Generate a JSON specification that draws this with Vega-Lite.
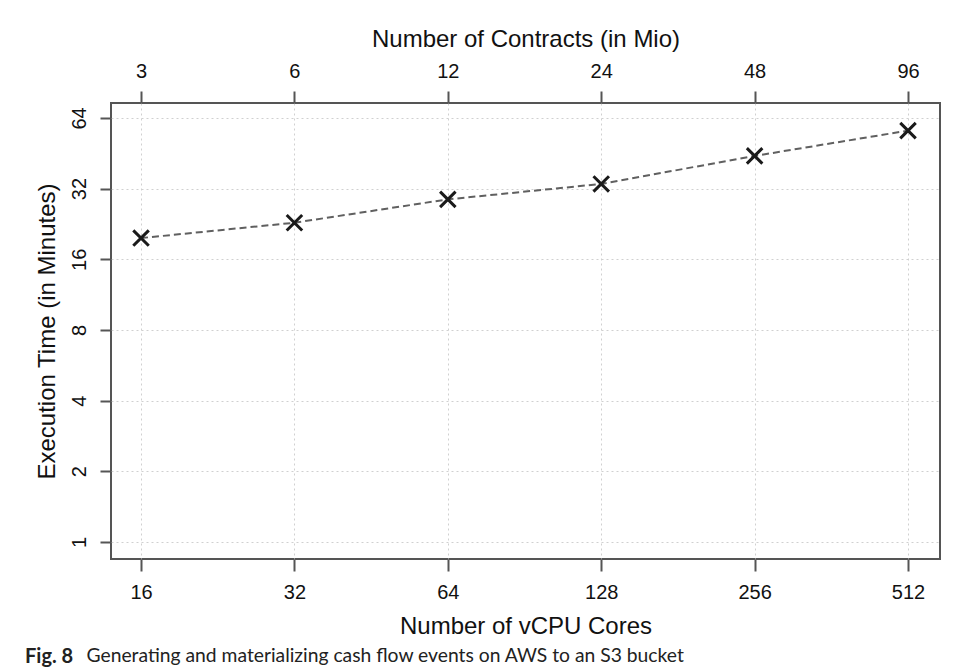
{
  "$schema": "https://vega.github.io/schema/vega-lite/v6.json",
  "width": 829,
  "height": 456,
  "autosize": {"type": "none"},
  "padding": {"left": 111, "top": 103, "right": 15, "bottom": 113},
  "background": "white",
  "config": {
    "view": {"stroke": "#555555", "strokeWidth": 2},
    "axis": {
      "labelFont": "Liberation Sans",
      "titleFont": "Liberation Sans",
      "labelFontSize": 20,
      "titleFontSize": 24,
      "titleFontWeight": "normal",
      "labelColor": "#111111",
      "titleColor": "#111111",
      "tickColor": "#555555",
      "tickWidth": 2,
      "tickSize": 12,
      "domain": false,
      "gridColor": "#d0d0d0",
      "gridDash": [2, 3],
      "gridWidth": 1
    }
  },
  "title": {
    "text": "Fig. 8",
    "orient": "bottom",
    "anchor": "start",
    "frame": "group",
    "dx": -86,
    "offset": -18,
    "font": "Lato",
    "fontSize": 20,
    "fontWeight": "bold",
    "color": "#222222"
  },
  "data": {
    "values": [
      {"cores": 16, "contracts": 3, "minutes": 19.7},
      {"cores": 32, "contracts": 6, "minutes": 22.9},
      {"cores": 64, "contracts": 12, "minutes": 28.8},
      {"cores": 128, "contracts": 24, "minutes": 33.5},
      {"cores": 256, "contracts": 48, "minutes": 44.1},
      {"cores": 512, "contracts": 96, "minutes": 56.5}
    ]
  },
  "encoding": {
    "y": {
      "field": "minutes",
      "type": "quantitative",
      "scale": {"type": "log", "base": 2, "domain": [0.846, 74.1], "nice": false},
      "axis": {
        "title": "Execution Time (in Minutes)",
        "values": [1, 2, 4, 8, 16, 32, 64],
        "format": "d",
        "labelAngle": -90,
        "labelAlign": "center",
        "labelBaseline": "bottom",
        "labelPadding": 11,
        "tickSize": 11,
        "titlePadding": 10,
        "grid": true
      }
    }
  },
  "layer": [
    {
      "encoding": {
        "x": {
          "field": "cores",
          "type": "quantitative",
          "scale": {"type": "log", "base": 2, "domain": [13.97, 591.6], "nice": false},
          "axis": {
            "orient": "bottom",
            "title": "Number of vCPU Cores",
            "values": [16, 32, 64, 128, 256, 512],
            "format": "d",
            "labelPadding": 11,
            "titlePadding": 12,
            "grid": true
          }
        }
      },
      "layer": [
        {
          "mark": {"type": "line", "color": "#606060", "strokeWidth": 2, "strokeDash": [7, 4]}
        },
        {
          "mark": {
            "type": "point",
            "shape": "M-1,-1L1,1M-1,1L1,-1",
            "filled": false,
            "stroke": "#1a1a1a",
            "strokeWidth": 3,
            "size": 240,
            "opacity": 1
          }
        }
      ]
    },
    {
      "mark": {"type": "point", "opacity": 0},
      "encoding": {
        "x": {
          "field": "contracts",
          "type": "quantitative",
          "scale": {"type": "log", "base": 2, "domain": [2.6203, 110.93], "nice": false},
          "axis": {
            "orient": "top",
            "title": "Number of Contracts (in Mio)",
            "values": [3, 6, 12, 24, 48, 96],
            "format": "d",
            "labelPadding": 10,
            "titlePadding": 10,
            "grid": false
          }
        }
      }
    },
    {
      "mark": {"type": "point", "opacity": 0},
      "encoding": {
        "x": {
          "field": "cores",
          "type": "quantitative",
          "scale": {"type": "log", "base": 2, "domain": [13.97, 591.6], "nice": false},
          "axis": {
            "orient": "bottom",
            "title": "Generating and materializing cash flow events on AWS to an S3 bucket",
            "labels": false,
            "ticks": false,
            "domain": false,
            "grid": false,
            "titleFont": "Lato",
            "titleFontSize": 19.3,
            "titleFontWeight": "normal",
            "titleColor": "#222222",
            "titleAnchor": "start",
            "titleAlign": "left",
            "titleBaseline": "alphabetic",
            "titleX": -25,
            "titleY": 102
          }
        }
      }
    }
  ],
  "resolve": {"scale": {"x": "independent"}, "axis": {"x": "independent"}}
}
